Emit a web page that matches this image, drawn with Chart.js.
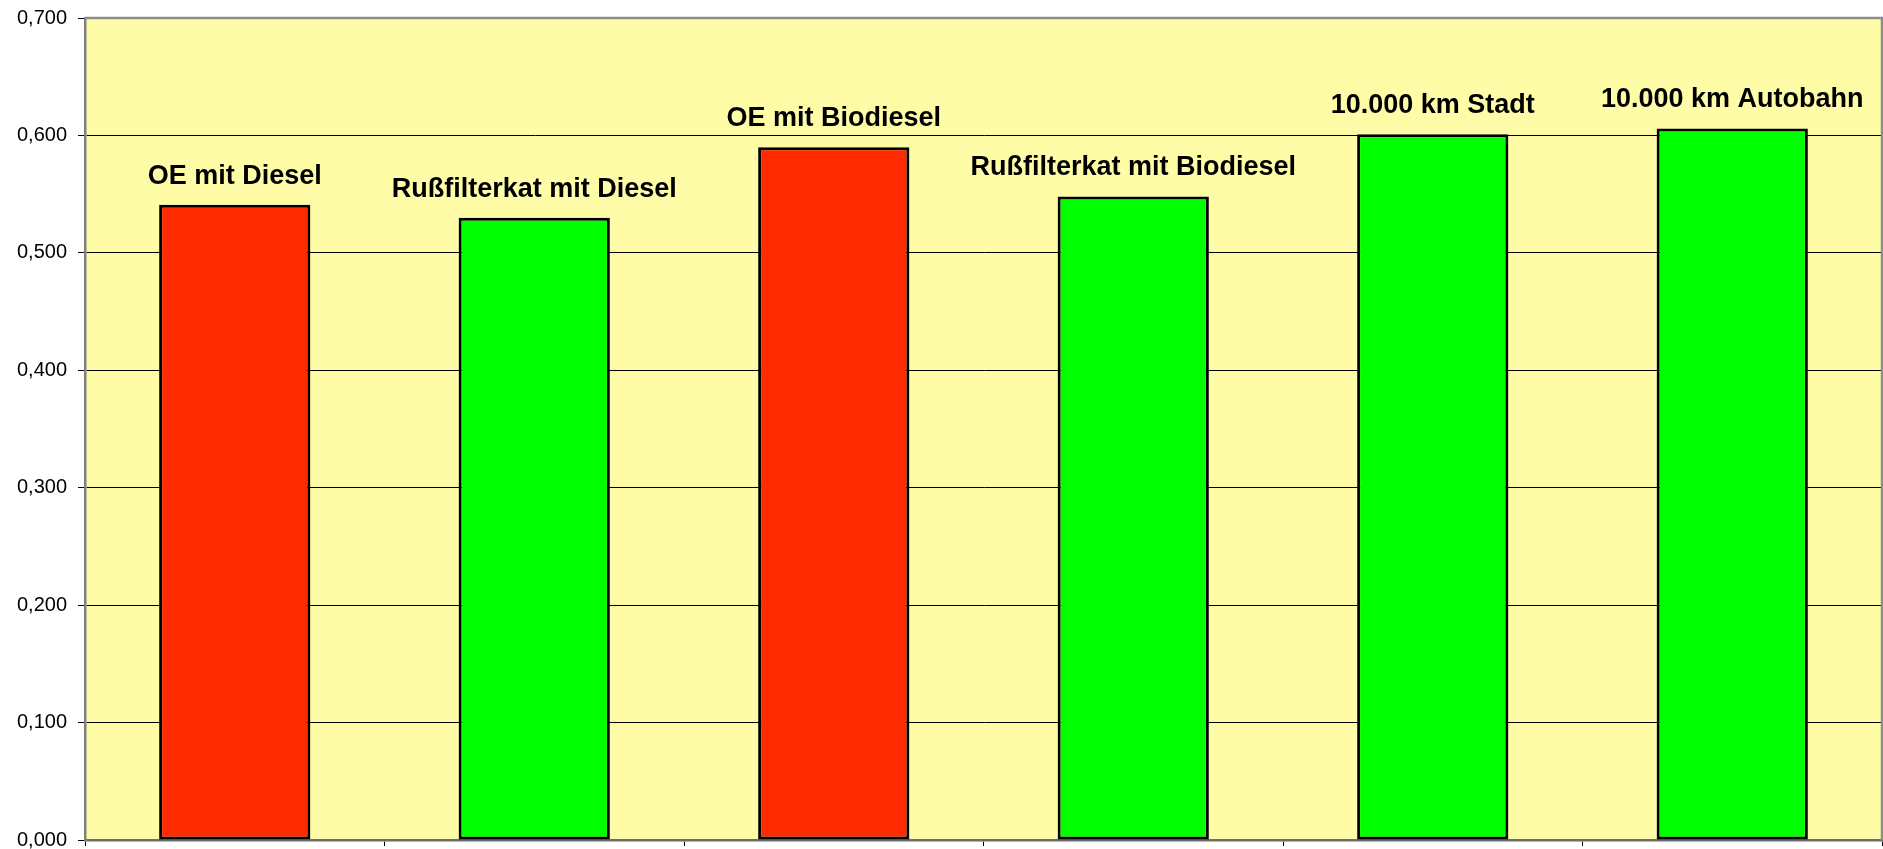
<!DOCTYPE html>
<html>
<head>
<meta charset="utf-8">
<script src="https://cdn.jsdelivr.net/npm/chart.js@4"></script>
<style>
  html, body { margin: 0; padding: 0; background: #fff; }
  #wrap { width: 1883px; height: 849px; }
</style>
</head>
<body>
<div id="wrap"><canvas id="chartCanvas" width="1883" height="849"></canvas></div>
<script>
const categories = ['OE mit Diesel', 'Rußfilterkat mit Diesel', 'OE mit Biodiesel', 'Rußfilterkat mit Biodiesel', '10.000 km Stadt', '10.000 km Autobahn'];
const values = [0.541, 0.530, 0.590, 0.548, 0.601, 0.606];
const barColors = ['#FF2A00', '#00FF00', '#FF2A00', '#00FF00', '#00FF00', '#00FF00'];
const yTicks = [0, 0.1, 0.2, 0.3, 0.4, 0.5, 0.6, 0.7];

const FONT = '"Liberation Sans", Arial, sans-serif';

// plot area fill + gray frame + labels above the bars
const decorations = {
  id: 'decorations',
  beforeDraw(chart) {
    const { ctx, chartArea: a } = chart;
    ctx.save();
    ctx.fillStyle = '#FFFCA8';
    ctx.fillRect(a.left, a.top, a.right - a.left, a.bottom - a.top);
    ctx.restore();
  },
  afterDraw(chart) {
    const { ctx, chartArea: a } = chart;
    ctx.save();
    ctx.strokeStyle = '#8c8c8c';
    ctx.lineWidth = 2.5;
    ctx.beginPath();
    ctx.moveTo(a.left, a.top);
    ctx.lineTo(a.right, a.top);
    ctx.lineTo(a.right, a.bottom);
    ctx.stroke();

    ctx.fillStyle = '#000';
    ctx.font = 'bold 27px ' + FONT;
    ctx.textAlign = 'center';
    ctx.textBaseline = 'alphabetic';
    chart.getDatasetMeta(0).data.forEach((bar, i) => {
      ctx.fillText(categories[i], bar.x, bar.y - 21);
    });
    ctx.restore();
  }
};

new Chart(document.getElementById('chartCanvas').getContext('2d'), {
  type: 'bar',
  data: {
    labels: categories,
    datasets: [{
      data: values,
      backgroundColor: barColors,
      borderColor: '#000',
      borderWidth: 3,
      borderSkipped: false,
      categoryPercentage: 1,
      barPercentage: 0.505
    }]
  },
  options: {
    responsive: false,
    animation: false,
    layout: { padding: { top: 18, right: 1, bottom: 3, left: 0 } },
    plugins: {
      legend: { display: false },
      tooltip: { enabled: false }
    },
    scales: {
      x: {
        grid: {
          offset: true,
          drawOnChartArea: false,
          tickLength: 6,
          color: '#000',
          lineWidth: 1
        },
        border: { color: '#6e6e6e', width: 2.5 },
        ticks: { display: false }
      },
      y: {
        min: 0,
        max: 0.7,
        afterBuildTicks(scale) {
          scale.ticks = yTicks.map(v => ({ value: v }));
        },
        afterFit(scale) {
          scale.width = 85;
          scale.paddingTop = 0;
          scale.paddingBottom = 0;
        },
        grid: {
          color: '#000',
          lineWidth: 1,
          tickLength: 7,
          tickColor: '#000'
        },
        border: { color: '#808080', width: 2.5 },
        ticks: {
          padding: 11,
          color: '#000',
          font: { family: FONT, size: 20 },
          callback: v => v.toFixed(3).replace('.', ',')
        }
      }
    }
  },
  plugins: [decorations]
});
</script>
</body>
</html>
